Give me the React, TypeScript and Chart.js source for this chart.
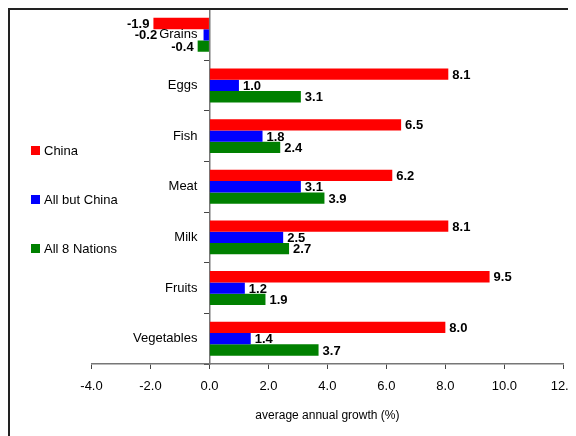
import { useEffect, useRef } from "react";
import { Chart, registerables } from "chart.js";

Chart.register(...registerables);

const categories = ["Grains", "Eggs", "Fish", "Meat", "Milk", "Fruits", "Vegetables"];
const seriesNames = ["China", "All but China", "All 8 Nations"];
const chinaGrowth = [-1.9, 8.1, 6.5, 6.2, 8.1, 9.5, 8.0];
const allButChinaGrowth = [-0.2, 1.0, 1.8, 3.1, 2.5, 1.2, 1.4];
const allNationsGrowth = [-0.4, 3.1, 2.4, 3.9, 2.7, 1.9, 3.7];
const seriesColors = ["#ff0000", "#0000ff", "#008000"];
const axisMin = -4;
const axisMax = 12;
const axisStep = 2;
const axisTitle = "average annual growth (%)";

const FONT = "'Liberation Sans', Arial, sans-serif";
const CAT_GAP = 12; // distance from the zero axis to the right edge of a category name

// Category names, right-aligned just left of the zero line.
const categoryNames = {
  id: "categoryNames",
  afterDraw(chart: any) {
    const ctx = chart.ctx;
    const yScale = chart.scales.y;
    const axisX = chart.scales.x.getPixelForValue(0);
    ctx.save();
    ctx.font = `13px ${FONT}`;
    ctx.fillStyle = "#000";
    ctx.textAlign = "right";
    ctx.textBaseline = "middle";
    categories.forEach((name, i) => {
      ctx.fillText(name, axisX - CAT_GAP, yScale.getPixelForValue(i));
    });
    ctx.restore();
  },
};

// Bold value labels at the end of each bar; negative values sit left of the bar,
// and are pushed clear of the category name if they would run into it.
const valueLabels = {
  id: "valueLabels",
  afterDraw(chart: any) {
    const ctx = chart.ctx;
    const yScale = chart.scales.y;
    const axisX = chart.scales.x.getPixelForValue(0);
    ctx.save();
    ctx.fillStyle = "#000";
    ctx.textBaseline = "middle";
    chart.data.datasets.forEach((ds: any, di: number) => {
      const meta = chart.getDatasetMeta(di);
      meta.data.forEach((bar: any, i: number) => {
        const v = ds.data[i] as number;
        const text = v.toFixed(1);
        const y = bar.y + 1;
        ctx.font = `bold 13px ${FONT}`;
        if (v >= 0) {
          ctx.textAlign = "left";
          ctx.fillText(text, bar.x + 4, y);
        } else {
          let x = bar.x - 4;
          const w = ctx.measureText(text).width;
          ctx.font = `13px ${FONT}`;
          const catW = ctx.measureText(categories[i]).width;
          ctx.font = `bold 13px ${FONT}`;
          const catRight = axisX - CAT_GAP;
          const catLeft = catRight - catW;
          const catY = yScale.getPixelForValue(i);
          const overlapY = Math.abs(y - catY) < 11;
          const overlapX = x > catLeft && x - w < catRight;
          if (overlapY && overlapX) x = catLeft - 2;
          ctx.textAlign = "right";
          ctx.fillText(text, x, y);
        }
      });
    });
    ctx.restore();
  },
};

// Vertical legend drawn at the left of the plot.
const sideLegend = {
  id: "sideLegend",
  afterDraw(chart: any) {
    const ctx = chart.ctx;
    ctx.save();
    ctx.font = `13px ${FONT}`;
    ctx.textBaseline = "middle";
    ctx.textAlign = "left";
    seriesNames.forEach((name, i) => {
      const cy = 143 + i * 49;
      ctx.fillStyle = seriesColors[i];
      ctx.fillRect(23, cy - 5, 9, 9);
      ctx.fillStyle = "#000";
      ctx.fillText(name, 36, cy);
    });
    ctx.restore();
  },
};

// Let the outer tick labels run past the plot edges instead of shrinking it.
const noOverhang = (scale: any) => {
  scale.paddingLeft = 0;
  scale.paddingRight = 0;
  scale.paddingTop = 0;
  scale.paddingBottom = 0;
};

export default function App() {
  const canvasRef = useRef<HTMLCanvasElement | null>(null);

  useEffect(() => {
    if (!canvasRef.current) return;
    Chart.defaults.font.family = FONT;
    const seriesValues = [chinaGrowth, allButChinaGrowth, allNationsGrowth];
    const chart = new Chart(canvasRef.current, {
      type: "bar",
      data: {
        labels: categories,
        datasets: seriesNames.map((name, i) => ({
          label: name,
          data: seriesValues[i],
          backgroundColor: seriesColors[i],
          borderWidth: 0,
          categoryPercentage: 0.67,
          barPercentage: 1,
        })),
      },
      options: {
        indexAxis: "y",
        animation: false,
        responsive: false,
        maintainAspectRatio: false,
        layout: { padding: { left: 83.5, right: 12.7, top: 1.5, bottom: 9 } },
        plugins: {
          legend: { display: false },
          tooltip: { enabled: false },
        },
        scales: {
          x: {
            type: "linear",
            position: "bottom",
            min: axisMin,
            max: axisMax,
            afterFit: noOverhang,
            ticks: {
              stepSize: axisStep,
              color: "#000",
              font: { size: 13 },
              padding: 10,
              callback: (v: any) => Number(v).toFixed(1),
            },
            grid: { drawOnChartArea: false, tickLength: 5, color: "#444" },
            border: { color: "#777", width: 1.5 },
            title: {
              display: true,
              text: axisTitle,
              color: "#000",
              font: { size: 12 },
              padding: { top: 4, bottom: 4 },
            },
          },
          y: {
            type: "category",
            axis: "y",
            position: { x: 0 } as any,
            afterFit: noOverhang,
            ticks: { display: false },
            grid: { drawOnChartArea: false, tickLength: 5, color: "#444", offset: true },
            border: { color: "#777", width: 1.5 },
          },
        },
      },
      plugins: [categoryNames, valueLabels, sideLegend],
    });
    return () => chart.destroy();
  }, []);

  return (
    <div style={{ position: "relative", width: 568, height: 428 }}>
      <canvas ref={canvasRef} width={568} height={428} style={{ display: "block" }} />
      <div
        style={{
          position: "absolute",
          left: 0,
          top: 0,
          width: 566,
          height: 426,
          borderLeft: "2px solid #222",
          borderTop: "2px solid #222",
          pointerEvents: "none",
        }}
      />
    </div>
  );
}
